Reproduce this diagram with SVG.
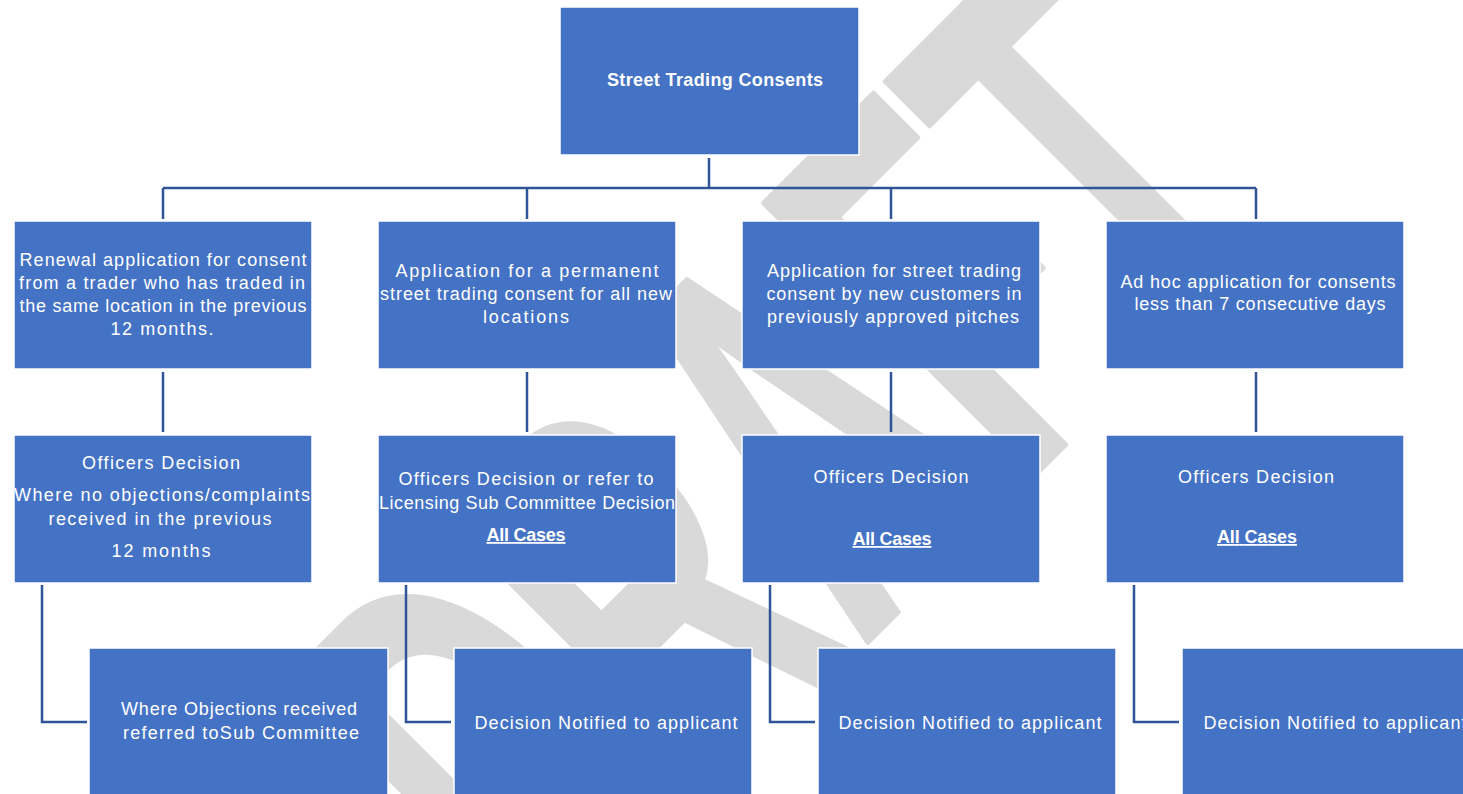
<svg xmlns="http://www.w3.org/2000/svg" width="1463" height="794" viewBox="0 0 1463 794">
<style>
.box{fill:#4472c4;stroke:#ffffff;stroke-width:1.5}
.t{font-family:"Liberation Sans",Arial,sans-serif;font-size:18px;fill:#ffffff;text-anchor:middle}
.b{font-weight:bold}
.u{font-weight:bold;text-decoration:underline}
.c{fill:none;stroke:#2f5597;stroke-width:2.5}
.wm{font-family:"Liberation Sans",Arial,sans-serif;font-weight:bold;font-size:310px;fill:#d9d9d9;stroke:#d9d9d9;stroke-width:3;stroke-linejoin:round}
</style>
<rect width="1463" height="794" fill="#ffffff"/>
<g id="watermark">
<text class="wm" transform="translate(545,965) rotate(-45) scale(1,1.8)">DRAFT</text>
</g>
<g id="connectors">
<path class="c" d="M709,158V188M163,188H1256M163,188V219M527,188V219M891,188V219M1256,188V219"/>
<path class="c" d="M163,372V432M527,372V432M891,372V432M1256,372V432"/>
<path class="c" d="M42,585V722H87M406,585V722H451M770,585V722H815M1134,585V722H1179"/>
</g>
<g id="n0">
<rect class="box" x="560" y="7" width="299" height="148"/>
<text class="t b" font-size="17" x="715" y="86" textLength="216">Street Trading Consents</text>
</g>
<g id="n1">
<rect class="box" x="14" y="221" width="298" height="148"/>
<text class="t" x="163" y="266" textLength="287">Renewal application for consent</text>
<text class="t" x="162" y="289" textLength="286">from a trader who has traded in</text>
<text class="t" x="163" y="312" textLength="287">the same location in the previous</text>
<text class="t" x="162" y="335" textLength="103">12 months.</text>
</g>
<g id="n2">
<rect class="box" x="378" y="221" width="298" height="148"/>
<text class="t" x="527" y="277" textLength="263">Application for a permanent</text>
<text class="t" x="526" y="300" textLength="292">street trading consent for all new</text>
<text class="t" x="526" y="323" textLength="86">locations</text>
</g>
<g id="n3">
<rect class="box" x="742" y="221" width="298" height="148"/>
<text class="t" x="894" y="277" textLength="254">Application for street trading</text>
<text class="t" x="894" y="300" textLength="255">consent by new customers in</text>
<text class="t" x="893" y="323" textLength="252">previously approved pitches</text>
</g>
<g id="n4">
<rect class="box" x="1106" y="221" width="298" height="148"/>
<text class="t" x="1258" y="288" textLength="275">Ad hoc application for consents</text>
<text class="t" x="1260" y="310" textLength="251">less than 7 consecutive days</text>
</g>
<g id="n5">
<rect class="box" x="14" y="435" width="298" height="148"/>
<text class="t" x="161" y="469" textLength="158">Officers Decision</text>
<text class="t" x="162" y="501" textLength="296">Where no objections/complaints</text>
<text class="t" x="160" y="525" textLength="223">received in the previous</text>
<text class="t" x="161" y="557" textLength="99">12 months</text>
</g>
<g id="n6">
<rect class="box" x="378" y="435" width="298" height="148"/>
<text class="t" x="526" y="485" textLength="255">Officers Decision or refer to</text>
<text class="t" x="527" y="509" textLength="296">Licensing Sub Committee Decision</text>
<text class="t u" x="526" y="541" textLength="79">All Cases</text>
</g>
<g id="n7">
<rect class="box" x="742" y="435" width="298" height="148"/>
<text class="t" x="891" y="483" textLength="155">Officers Decision</text>
<text class="t u" x="892" y="545" textLength="79">All Cases</text>
</g>
<g id="n8">
<rect class="box" x="1106" y="435" width="298" height="148"/>
<text class="t" x="1256" y="483" textLength="156">Officers Decision</text>
<text class="t u" x="1257" y="543" textLength="80">All Cases</text>
</g>
<g id="n9">
<rect class="box" x="89" y="648" width="299" height="150"/>
<text class="t" x="239" y="715" textLength="236">Where Objections received</text>
<text class="t" x="241" y="739" textLength="236">referred toSub Committee</text>
</g>
<g id="n10">
<rect class="box" x="454" y="648" width="298" height="150"/>
<text class="t" x="606" y="729" textLength="263">Decision Notified to applicant</text>
</g>
<g id="n11">
<rect class="box" x="818" y="648" width="298" height="150"/>
<text class="t" x="970" y="729" textLength="263">Decision Notified to applicant</text>
</g>
<g id="n12">
<rect class="box" x="1182" y="648" width="298" height="150"/>
<text class="t" x="1335" y="729" textLength="263">Decision Notified to applicant</text>
</g>
</svg>
